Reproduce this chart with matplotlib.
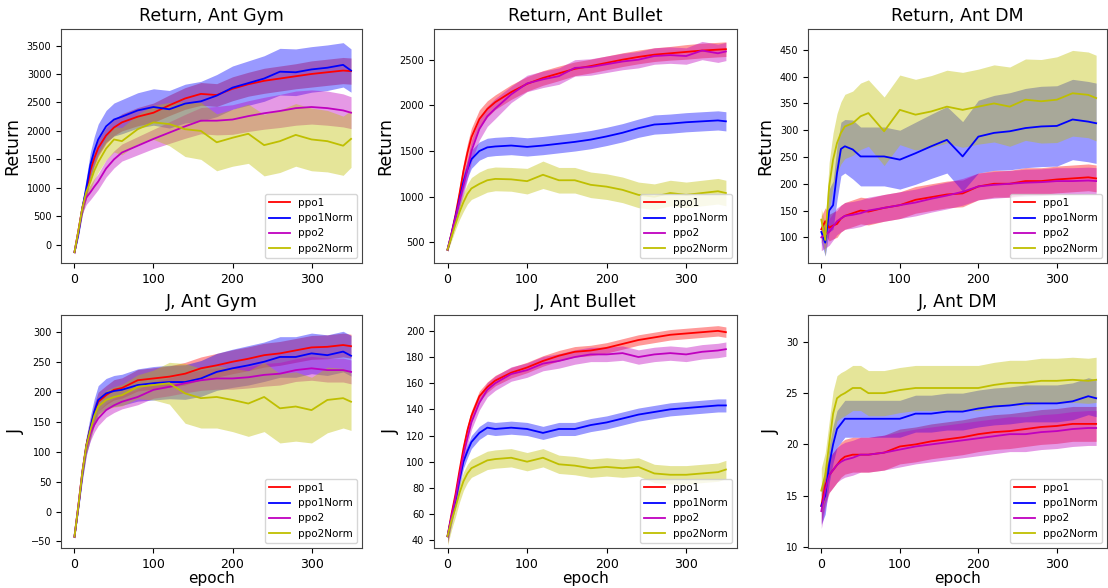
import matplotlib
matplotlib.use('Agg')
from matplotlib import pyplot as plt

epochs = [0, 5, 10, 15, 20, 25, 30, 40, 50, 60, 80, 100, 120, 140, 160, 180, 200, 220, 240, 260, 280, 300, 320, 340, 350]
series_names = ['ppo1', 'ppo1Norm', 'ppo2', 'ppo2Norm']

# Return, Ant Gym
gym_ret_ppo1 = [-130, 250, 650, 950, 1300, 1520, 1700, 1920, 2060, 2150, 2250, 2320, 2450, 2570, 2650, 2630, 2740, 2820, 2880, 2920, 2960, 3000, 3030, 3060, 3050]
gym_ret_ppo1_sd = [30, 60, 100, 130, 150, 150, 150, 140, 140, 150, 160, 170, 180, 190, 200, 200, 210, 210, 220, 220, 220, 230, 230, 230, 230]
gym_ret_ppo1n = [-130, 200, 650, 1000, 1400, 1650, 1850, 2080, 2200, 2250, 2360, 2420, 2380, 2480, 2520, 2620, 2760, 2840, 2920, 3040, 3030, 3080, 3110, 3160, 3060]
gym_ret_ppo1n_sd = [30, 60, 120, 180, 220, 250, 270, 280, 290, 300, 310, 320, 330, 340, 350, 370, 380, 390, 400, 410, 410, 400, 400, 390, 380]
gym_ret_ppo2 = [-130, 250, 650, 830, 920, 1020, 1110, 1340, 1500, 1620, 1740, 1860, 1970, 2080, 2180, 2180, 2200, 2260, 2310, 2350, 2400, 2420, 2400, 2360, 2320]
gym_ret_ppo2_sd = [30, 60, 100, 120, 130, 140, 140, 150, 150, 150, 160, 170, 190, 210, 230, 250, 260, 270, 280, 290, 300, 300, 300, 290, 280]
gym_ret_ppo2n = [-130, 250, 650, 930, 1100, 1300, 1450, 1690, 1850, 1820, 2030, 2150, 2120, 2030, 2000, 1800, 1880, 1950, 1750, 1820, 1930, 1850, 1820, 1740, 1860]
gym_ret_ppo2n_sd = [30, 60, 100, 120, 140, 160, 180, 200, 220, 240, 260, 300, 380, 480, 500, 500, 500, 520, 540, 550, 550, 550, 540, 520, 500]

# Return, Ant Bullet
bul_ret_ppo1 = [420, 600, 800, 1030, 1280, 1480, 1650, 1850, 1960, 2035, 2145, 2235, 2300, 2350, 2400, 2430, 2465, 2500, 2530, 2555, 2570, 2585, 2600, 2610, 2615]
bul_ret_ppo1_sd = [20, 40, 60, 80, 90, 100, 100, 100, 90, 80, 80, 80, 80, 80, 75, 75, 75, 75, 75, 75, 75, 80, 80, 80, 80]
bul_ret_ppo1n = [420, 590, 780, 970, 1160, 1300, 1410, 1500, 1540, 1550, 1560, 1545, 1560, 1580, 1600, 1625, 1660, 1700, 1750, 1790, 1800, 1815, 1825, 1835, 1825]
bul_ret_ppo1n_sd = [20, 40, 60, 80, 90, 95, 100, 100, 100, 100, 100, 100, 100, 100, 100, 100, 100, 100, 100, 105, 105, 105, 105, 105, 105]
bul_ret_ppo2 = [420, 590, 770, 950, 1120, 1300, 1500, 1740, 1880, 1965, 2120, 2240, 2285, 2320, 2410, 2420, 2450, 2480, 2500, 2540, 2550, 2540, 2600, 2570, 2590]
bul_ret_ppo2_sd = [20, 40, 60, 80, 100, 110, 120, 120, 110, 110, 90, 90, 90, 90, 90, 90, 90, 90, 90, 90, 90, 90, 100, 100, 100]
bul_ret_ppo2n = [420, 560, 700, 830, 940, 1030, 1090, 1140, 1180, 1195, 1190, 1170, 1240, 1180, 1180, 1130, 1110, 1075, 1020, 1000, 1040, 1020, 1040, 1060, 1040]
bul_ret_ppo2n_sd = [20, 40, 60, 80, 100, 110, 120, 130, 130, 130, 130, 140, 150, 140, 140, 140, 140, 140, 140, 140, 140, 140, 140, 140, 140]

# Return, Ant DM
dm_ret_ppo1 = [115, 130, 118, 122, 125, 135, 140, 145, 150, 148, 155, 160, 170, 175, 180, 182, 195, 200, 200, 205, 205, 208, 210, 212, 210]
dm_ret_ppo1_sd = 25
dm_ret_ppo1n = [110, 90, 150, 160, 220, 265, 270, 264, 251, 251, 251, 245, 257, 270, 282, 251, 288, 295, 298, 304, 307, 308, 320, 316, 313]
dm_ret_ppo1n_sd = [20, 25, 40, 45, 50, 50, 50, 55, 55, 55, 55, 55, 58, 60, 62, 65, 68, 70, 72, 74, 75, 75, 75, 75, 75]
dm_ret_ppo2 = [100, 105, 110, 120, 130, 135, 140, 142, 145, 150, 155, 160, 165, 172, 178, 185, 195, 198, 200, 202, 203, 205, 205, 206, 205]
dm_ret_ppo2_sd = 25
dm_ret_ppo2n = [133, 95, 195, 245, 276, 295, 307, 313, 326, 332, 298, 338, 329, 335, 344, 338, 344, 350, 344, 357, 354, 357, 369, 366, 360]
dm_ret_ppo2n_sd = [20, 30, 45, 50, 55, 58, 60, 60, 62, 62, 64, 65, 66, 67, 68, 70, 70, 72, 74, 76, 78, 80, 80, 80, 80]

# J, Ant Gym
gym_j_ppo1 = [-42, 11, 67, 112, 139, 165, 184, 195, 204, 207, 220, 223, 226, 231, 240, 245, 251, 256, 262, 265, 270, 275, 276, 279, 277]
gym_j_ppo1_sd = [3, 6, 10, 12, 14, 15, 16, 16, 17, 17, 18, 18, 18, 19, 19, 20, 20, 20, 20, 20, 20, 20, 20, 20, 20]
gym_j_ppo1n = [-42, 8, 64, 110, 140, 167, 187, 198, 202, 204, 212, 215, 217, 217, 223, 234, 240, 245, 251, 259, 259, 265, 262, 268, 261]
gym_j_ppo1n_sd = [3, 6, 12, 16, 20, 22, 24, 25, 26, 26, 27, 28, 28, 29, 30, 31, 32, 33, 33, 34, 34, 34, 34, 34, 34]
gym_j_ppo2 = [-42, 11, 67, 108, 130, 145, 156, 170, 178, 184, 192, 204, 209, 215, 220, 223, 223, 225, 229, 231, 237, 240, 237, 237, 234]
gym_j_ppo2_sd = [3, 6, 10, 11, 12, 12, 12, 12, 12, 12, 13, 14, 15, 16, 17, 18, 18, 18, 19, 19, 19, 20, 20, 20, 20]
gym_j_ppo2n = [-42, 10, 66, 110, 136, 160, 176, 187, 192, 195, 209, 212, 215, 198, 190, 192, 187, 181, 192, 173, 176, 170, 187, 190, 184]
gym_j_ppo2n_sd = [3, 6, 10, 12, 14, 15, 15, 16, 17, 18, 20, 25, 35, 50, 50, 52, 53, 55, 58, 58, 58, 55, 55, 50, 48]

# J, Ant Bullet
bul_j_ppo1 = [43, 60, 75, 93, 110, 124, 135, 150, 157, 162, 168, 172, 177, 181, 184, 185, 187, 190, 193, 195, 197, 198, 199, 200, 199]
bul_j_ppo1_sd = 4
bul_j_ppo1n = [43, 57, 70, 86, 100, 108, 115, 122, 126, 125, 126, 125, 122, 125, 125, 128, 130, 133, 136, 138, 140, 141, 142, 143, 143]
bul_j_ppo1n_sd = 5
bul_j_ppo2 = [43, 58, 72, 89, 105, 118, 130, 145, 155, 160, 167, 170, 175, 177, 180, 182, 182, 183, 180, 182, 183, 182, 184, 185, 186]
bul_j_ppo2_sd = 5.5
bul_j_ppo2n = [43, 55, 65, 76, 85, 91, 95, 98, 101, 102, 103, 100, 103, 98, 97, 95, 96, 95, 96, 91, 90, 90, 91, 92, 94]
bul_j_ppo2n_sd = 7

# J, Ant DM
dm_j_ppo1 = [14, 16, 17, 17.5, 18, 18.5, 18.8, 19, 19, 19, 19.2, 19.8, 20, 20.3, 20.5, 20.7, 21, 21.2, 21.3, 21.5, 21.7, 21.8, 22, 22, 22]
dm_j_ppo1_sd = 1.7
dm_j_ppo1n = [14, 15, 18, 20, 21.5, 22, 22.5, 22.5, 22.5, 22.5, 22.5, 22.5, 23, 23, 23.2, 23.2, 23.5, 23.7, 23.8, 24, 24, 24, 24.2, 24.7, 24.5]
dm_j_ppo1n_sd = 1.8
dm_j_ppo2 = [13.5, 15.5, 17, 17.5, 18, 18.3, 18.5, 18.7, 19, 19, 19.2, 19.5, 19.8, 20, 20.2, 20.4, 20.6, 20.8, 21, 21, 21.2, 21.3, 21.5, 21.6, 21.6]
dm_j_ppo2_sd = 1.7
dm_j_ppo2n = [15.5, 17, 20, 23, 24.5, 24.8, 25, 25.5, 25.5, 25, 25, 25.3, 25.5, 25.5, 25.5, 25.5, 25.5, 25.8, 26, 26, 26.2, 26.2, 26.3, 26.2, 26.3]
dm_j_ppo2n_sd = 2.2

colors = ['r', 'b', 'm', 'y']

panels = [
    ('Return, Ant Gym', 'Return', [gym_ret_ppo1, gym_ret_ppo1n, gym_ret_ppo2, gym_ret_ppo2n],
     [gym_ret_ppo1_sd, gym_ret_ppo1n_sd, gym_ret_ppo2_sd, gym_ret_ppo2n_sd], (-320, 3790)),
    ('Return, Ant Bullet', 'Return', [bul_ret_ppo1, bul_ret_ppo1n, bul_ret_ppo2, bul_ret_ppo2n],
     [bul_ret_ppo1_sd, bul_ret_ppo1n_sd, bul_ret_ppo2_sd, bul_ret_ppo2n_sd], (274, 2836)),
    ('Return, Ant DM', 'Return', [dm_ret_ppo1, dm_ret_ppo1n, dm_ret_ppo2, dm_ret_ppo2n],
     [dm_ret_ppo1_sd, dm_ret_ppo1n_sd, dm_ret_ppo2_sd, dm_ret_ppo2n_sd], (52, 489)),
    ('J, Ant Gym', 'J', [gym_j_ppo1, gym_j_ppo1n, gym_j_ppo2, gym_j_ppo2n],
     [gym_j_ppo1_sd, gym_j_ppo1n_sd, gym_j_ppo2_sd, gym_j_ppo2n_sd], (-61, 329)),
    ('J, Ant Bullet', 'J', [bul_j_ppo1, bul_j_ppo1n, bul_j_ppo2, bul_j_ppo2n],
     [bul_j_ppo1_sd, bul_j_ppo1n_sd, bul_j_ppo2_sd, bul_j_ppo2n_sd], (34, 212)),
    ('J, Ant DM', 'J', [dm_j_ppo1, dm_j_ppo1n, dm_j_ppo2, dm_j_ppo2n],
     [dm_j_ppo1_sd, dm_j_ppo1n_sd, dm_j_ppo2_sd, dm_j_ppo2n_sd], (9.9, 32.6)),
]

lefts = [0.0551, 0.3917, 0.7292]
widths = [0.2717, 0.2735, 0.2700]
bottoms = [0.5527, 0.0680]
heights = [0.398, 0.396]


def band(mean, sd):
    if isinstance(sd, (int, float)):
        sd = [sd] * len(mean)
    lo = [m - s for m, s in zip(mean, sd)]
    hi = [m + s for m, s in zip(mean, sd)]
    return lo, hi


fig = plt.figure(figsize=(11.08, 5.88), dpi=100)

for k, (title, ylabel, means, sds, ylim) in enumerate(panels):
    row, col = divmod(k, 3)
    ax = fig.add_axes([lefts[col], bottoms[row], widths[col], heights[row]])
    for mean, sd, c, name in zip(means, sds, colors, series_names):
        lo, hi = band(mean, sd)
        ax.fill_between(epochs, lo, hi, color=c, alpha=0.4, lw=0)
        ax.plot(epochs, mean, color=c, lw=1.3, label=name)
    ax.set_xlim(-17, 364)
    ax.set_ylim(*ylim)
    ax.set_xticks([0, 100, 200, 300])
    ax.tick_params(axis='x', labelsize=9)
    ax.tick_params(axis='y', labelsize=7)
    ax.set_title(title, fontsize=12.5)
    ax.set_ylabel(ylabel, fontsize=12.5)
    if row == 1:
        ax.set_xlabel('epoch', fontsize=11, labelpad=0)
    for sp in ax.spines.values():
        sp.set_color('#444444')
    ax.legend(loc='lower right', fontsize=7.5)

fig.savefig('out.png', dpi=100)
